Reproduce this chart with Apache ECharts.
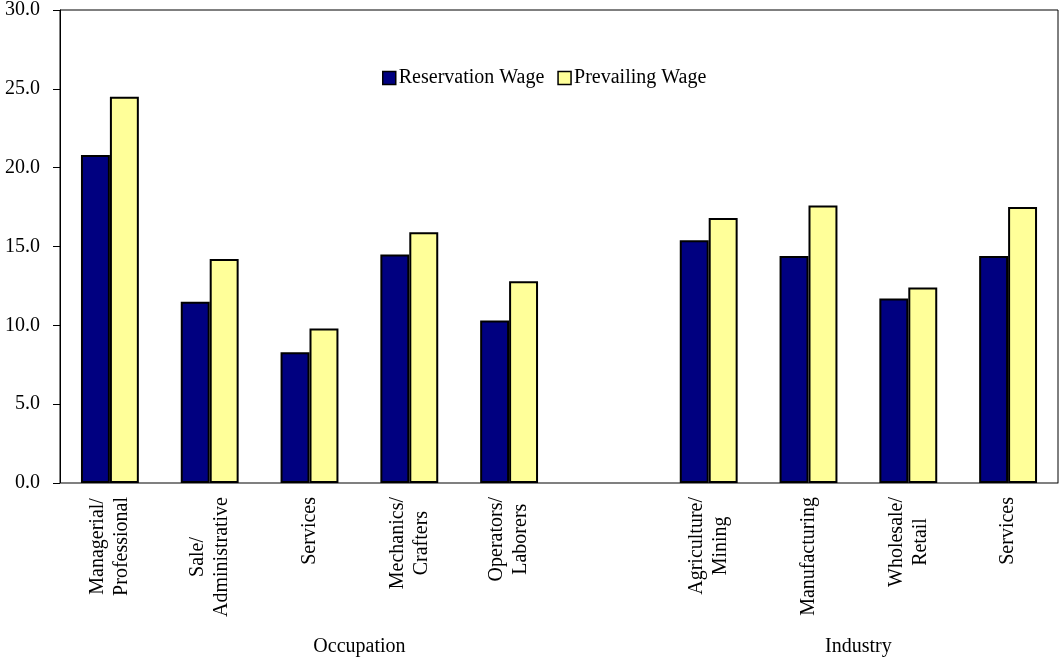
<!DOCTYPE html>
<html>
<head>
<meta charset="utf-8">
<script src="https://cdn.jsdelivr.net/npm/echarts@6/dist/echarts.min.js"></script>
<style>
html,body{margin:0;padding:0;background:#fff;}
#chart{width:1061px;height:657px;}
</style>
</head>
<body>
<div id="chart"></div>
<script>
// ---- data ----
var categories = [
  'Managerial/\nProfessional',
  'Sale/\nAdministrative',
  'Services',
  'Mechanics/\nCrafters',
  'Operators/\nLaborers',
  '',
  'Agriculture/\nMining',
  'Manufacturing',
  'Wholesale/\nRetail',
  'Services'
];
var reservationWage = [20.8, 11.5, 8.3, 14.5, 10.3, null, 15.4, 14.4, 11.7, 14.4];
var prevailingWage  = [24.5, 14.2, 9.8, 15.9, 12.8, null, 16.8, 17.6, 12.4, 17.5];
var seriesNames = ['Reservation Wage', 'Prevailing Wage'];
var groupNames = ['Occupation', 'Industry'];
var groupSpans = [6, 4]; // number of category slots each group covers
var yTicks = [0, 5, 10, 15, 20, 25, 30];

// group label positions on an edge-aligned axis (slot boundaries 0..N)
var groupAxisData = [];
for (var i = 0; i <= categories.length; i++) groupAxisData.push('');
var start = 0;
for (var g = 0; g < groupNames.length; g++) {
  groupAxisData[start + groupSpans[g] / 2] = groupNames[g];
  start += groupSpans[g];
}

var FONT = '"Liberation Serif", "Times New Roman", serif';
var chart = echarts.init(document.getElementById('chart'), null, {renderer: 'canvas'});
chart.setOption({
  animation: false,
  backgroundColor: '#fff',
  textStyle: {fontFamily: FONT, color: '#000'},
  grid: {left: 60, right: 1, top: 10, bottom: 173, show: true, borderColor: '#000', borderWidth: 1, backgroundColor: 'transparent'},
  legend: {
    data: seriesNames,
    left: 377, top: 63,
    itemWidth: 13, itemHeight: 13, itemGap: 13,
    icon: 'rect',
    textStyle: {fontFamily: FONT, fontSize: 20, color: '#000', padding: [0, 0, 0, -2]},
    itemStyle: {borderColor: '#000', borderWidth: 1.5}
  },
  xAxis: [{
    type: 'category',
    data: categories,
    axisLine: {show: true, lineStyle: {color: '#808080', width: 1}},
    axisTick: {show: false},
    splitLine: {show: false},
    axisLabel: {
      interval: 0, rotate: 90, margin: 14,
      fontFamily: FONT, fontSize: 20, color: '#000',
      formatter: function (v) {
        if (!v) return '';
        return v.split('\n').map(function (s) { return '{c|' + s + '}'; }).join('\n');
      },
      rich: {c: {align: 'center', fontFamily: FONT, fontSize: 20, lineHeight: 24, color: '#000'}}
    }
  }, {
    type: 'category',
    position: 'bottom',
    boundaryGap: false,
    data: groupAxisData,
    axisLine: {show: false},
    axisTick: {show: false},
    splitLine: {show: false},
    axisLabel: {interval: 0, margin: 154, fontFamily: FONT, fontSize: 20, color: '#000'}
  }],
  yAxis: {
    type: 'value',
    min: yTicks[0], max: yTicks[yTicks.length - 1], interval: yTicks[1] - yTicks[0],
    axisLine: {show: true, lineStyle: {color: '#000', width: 1}},
    axisTick: {show: true, length: 7, lineStyle: {color: '#000'}},
    splitLine: {show: false},
    axisLabel: {margin: 20, fontFamily: FONT, fontSize: 20, color: '#000', formatter: function (v) { return v.toFixed(1); }}
  },
  series: [{
    name: seriesNames[0], type: 'bar', data: reservationWage,
    xAxisIndex: 0, barGap: '0%', barCategoryGap: '42%',
    itemStyle: {color: '#000080', borderColor: '#000', borderWidth: 2}
  }, {
    name: seriesNames[1], type: 'bar', data: prevailingWage,
    xAxisIndex: 0, barGap: '0%', barCategoryGap: '42%',
    itemStyle: {color: '#FFFF99', borderColor: '#000', borderWidth: 2}
  }]
});
</script>
</body>
</html>
